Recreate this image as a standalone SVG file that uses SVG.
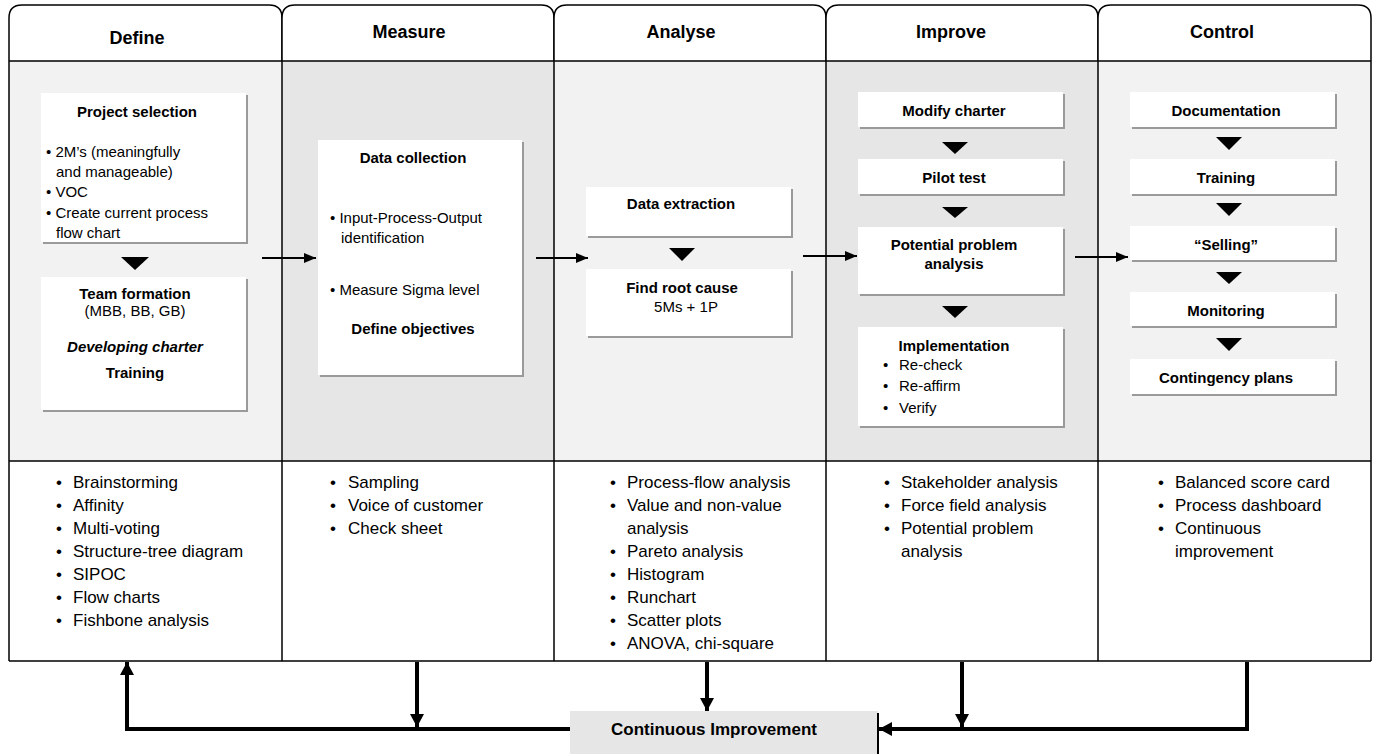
<svg xmlns="http://www.w3.org/2000/svg" width="1375" height="754" viewBox="0 0 1375 754">
<defs>
<style>
text{font-family:"Liberation Sans",Arial,sans-serif;fill:#000}
.hd{font-size:18px;font-weight:bold;text-anchor:middle}
.bt{font-size:15px;font-weight:bold;text-anchor:middle}
.rt{font-size:15px}
.rc{font-size:15px;text-anchor:middle}
.lt{font-size:17px}
.ci{font-size:17px;font-weight:bold;text-anchor:middle}
.tab{fill:#fff;stroke:#000;stroke-width:1.5}
.grid{stroke:#000;stroke-width:1.5;fill:none}
.box{fill:#fff}
.sh{fill:#9a9a9a}
.thin{stroke:#000;stroke-width:2;fill:none}
.thick{stroke:#000;stroke-width:4;fill:none}
.tri{fill:#000}
</style>
<marker id="ah" markerUnits="userSpaceOnUse" markerWidth="12" markerHeight="10" refX="12" refY="5" orient="auto"><path d="M0,0 L12,5 L0,10 Z" fill="#000"/></marker>
<marker id="ahb" markerUnits="userSpaceOnUse" markerWidth="13" markerHeight="14" refX="13" refY="7" orient="auto"><path d="M0,0 L13,7 L0,14 Z" fill="#000"/></marker>
</defs>
<rect x="0" y="0" width="1375" height="754" fill="#fff"/>
<g id="frame">
<rect x="9" y="61" width="273" height="400" fill="#f2f2f2"/>
<rect x="282" y="61" width="272" height="400" fill="#e6e6e6"/>
<rect x="554" y="61" width="272" height="400" fill="#f2f2f2"/>
<rect x="826" y="61" width="272" height="400" fill="#e6e6e6"/>
<rect x="1098" y="61" width="273" height="400" fill="#f2f2f2"/>
<path class="tab" d="M9,61 V18 C9,9 13,5 22,5 H269 C278,5 282,9 282,18 V61"/>
<path class="tab" d="M282,61 V18 C282,9 286,5 295,5 H541 C550,5 554,9 554,18 V61"/>
<path class="tab" d="M554,61 V18 C554,9 558,5 567,5 H813 C822,5 826,9 826,18 V61"/>
<path class="tab" d="M826,61 V18 C826,9 830,5 839,5 H1085 C1094,5 1098,9 1098,18 V61"/>
<path class="tab" d="M1098,61 V18 C1098,9 1102,5 1111,5 H1358 C1367,5 1371,9 1371,18 V61"/>
<path class="grid" d="M9,61 H1371 M9,461 H1371 M9,661 H1371 M9,61 V661 M282,61 V661 M554,61 V661 M826,61 V661 M1098,61 V661 M1371,61 V661"/>
<text class="hd" x="137" y="44">Define</text>
<text class="hd" x="409" y="38">Measure</text>
<text class="hd" x="681" y="38">Analyse</text>
<text class="hd" x="951" y="38">Improve</text>
<text class="hd" x="1222" y="38">Control</text>
</g>
<g id="define-project-selection">
<rect class="sh" x="43" y="95" width="205" height="149"/>
<rect class="box" x="41" y="93" width="205" height="149"/>
<text class="bt" x="137" y="117">Project selection</text>
<text class="rt" x="46" y="157">• 2M’s (meaningfully</text>
<text class="rt" x="56" y="177">and manageable)</text>
<text class="rt" x="46" y="197">• VOC</text>
<text class="rt" x="46" y="218">• Create current process</text>
<text class="rt" x="56" y="238">flow chart</text>
</g>
<g id="define-team-formation">
<rect class="sh" x="43" y="279" width="205" height="133"/>
<rect class="box" x="41" y="277" width="205" height="133"/>
<text class="bt" x="135" y="299">Team formation</text>
<text class="rc" x="135" y="316">(MBB, BB, GB)</text>
<text class="bt" x="135" y="352" font-style="italic">Developing charter</text>
<text class="bt" x="135" y="378">Training</text>
</g>
<g id="measure-data-collection">
<rect class="sh" x="320" y="142" width="204" height="235"/>
<rect class="box" x="318" y="140" width="204" height="235"/>
<text class="bt" x="413" y="163">Data collection</text>
<text class="rt" x="330" y="223">• Input-Process-Output</text>
<text class="rt" x="341" y="243">identification</text>
<text class="rt" x="330" y="295">• Measure Sigma level</text>
<text class="bt" x="413" y="334">Define objectives</text>
</g>
<g id="analyse-data-extraction">
<rect class="sh" x="588" y="189" width="205" height="49"/>
<rect class="box" x="586" y="187" width="205" height="49"/>
<text class="bt" x="681" y="209">Data extraction</text>
</g>
<g id="analyse-find-root-cause">
<rect class="sh" x="588" y="271" width="205" height="67"/>
<rect class="box" x="586" y="269" width="205" height="67"/>
<text class="bt" x="682" y="293">Find root cause</text>
<text class="rc" x="686" y="312">5Ms + 1P</text>
</g>
<g id="improve-modify-charter">
<rect class="sh" x="860" y="94" width="205" height="35"/>
<rect class="box" x="858" y="92" width="205" height="35"/>
<text class="bt" x="954" y="116">Modify charter</text>
</g>
<g id="improve-pilot-test">
<rect class="sh" x="860" y="161" width="205" height="35"/>
<rect class="box" x="858" y="159" width="205" height="35"/>
<text class="bt" x="954" y="183">Pilot test</text>
</g>
<g id="improve-potential-problem">
<rect class="sh" x="860" y="229" width="205" height="67"/>
<rect class="box" x="858" y="227" width="205" height="67"/>
<text class="bt" x="954" y="250">Potential problem</text>
<text class="bt" x="954" y="269">analysis</text>
</g>
<g id="improve-implementation">
<rect class="sh" x="860" y="329" width="205" height="99"/>
<rect class="box" x="858" y="327" width="205" height="99"/>
<text class="bt" x="954" y="351">Implementation</text>
<text class="rt" x="883" y="370">•</text><text class="rt" x="899" y="370">Re-check</text>
<text class="rt" x="883" y="391">•</text><text class="rt" x="899" y="391">Re-affirm</text>
<text class="rt" x="883" y="413">•</text><text class="rt" x="899" y="413">Verify</text>
</g>
<g id="control-documentation">
<rect class="sh" x="1132" y="94" width="205" height="35"/>
<rect class="box" x="1130" y="92" width="205" height="35"/>
<text class="bt" x="1226" y="116">Documentation</text>
</g>
<g id="control-training">
<rect class="sh" x="1132" y="161" width="205" height="35"/>
<rect class="box" x="1130" y="159" width="205" height="35"/>
<text class="bt" x="1226" y="183">Training</text>
</g>
<g id="control-selling">
<rect class="sh" x="1132" y="228" width="205" height="34"/>
<rect class="box" x="1130" y="226" width="205" height="34"/>
<text class="bt" x="1226" y="250">“Selling”</text>
</g>
<g id="control-monitoring">
<rect class="sh" x="1132" y="294" width="205" height="34"/>
<rect class="box" x="1130" y="292" width="205" height="34"/>
<text class="bt" x="1226" y="316">Monitoring</text>
</g>
<g id="control-contingency">
<rect class="sh" x="1132" y="361" width="205" height="35"/>
<rect class="box" x="1130" y="359" width="205" height="35"/>
<text class="bt" x="1226" y="383">Contingency plans</text>
</g>
<g id="tools-define">
<text class="lt" x="56" y="488">•</text><text class="lt" x="73" y="488">Brainstorming</text>
<text class="lt" x="56" y="511">•</text><text class="lt" x="73" y="511">Affinity</text>
<text class="lt" x="56" y="534">•</text><text class="lt" x="73" y="534">Multi-voting</text>
<text class="lt" x="56" y="557">•</text><text class="lt" x="73" y="557">Structure-tree diagram</text>
<text class="lt" x="56" y="580">•</text><text class="lt" x="73" y="580">SIPOC</text>
<text class="lt" x="56" y="603">•</text><text class="lt" x="73" y="603">Flow charts</text>
<text class="lt" x="56" y="626">•</text><text class="lt" x="73" y="626">Fishbone analysis</text>
</g>
<g id="tools-measure">
<text class="lt" x="330" y="488">•</text><text class="lt" x="348" y="488">Sampling</text>
<text class="lt" x="330" y="511">•</text><text class="lt" x="348" y="511">Voice of customer</text>
<text class="lt" x="330" y="534">•</text><text class="lt" x="348" y="534">Check sheet</text>
</g>
<g id="tools-analyse">
<text class="lt" x="610" y="488">•</text><text class="lt" x="627" y="488">Process-flow analysis</text>
<text class="lt" x="610" y="511">•</text><text class="lt" x="627" y="511">Value and non-value</text>
<text class="lt" x="627" y="534">analysis</text>
<text class="lt" x="610" y="557">•</text><text class="lt" x="627" y="557">Pareto analysis</text>
<text class="lt" x="610" y="580">•</text><text class="lt" x="627" y="580">Histogram</text>
<text class="lt" x="610" y="603">•</text><text class="lt" x="627" y="603">Runchart</text>
<text class="lt" x="610" y="626">•</text><text class="lt" x="627" y="626">Scatter plots</text>
<text class="lt" x="610" y="649">•</text><text class="lt" x="627" y="649">ANOVA, chi-square</text>
</g>
<g id="tools-improve">
<text class="lt" x="884" y="488">•</text><text class="lt" x="901" y="488">Stakeholder analysis</text>
<text class="lt" x="884" y="511">•</text><text class="lt" x="901" y="511">Force field analysis</text>
<text class="lt" x="884" y="534">•</text><text class="lt" x="901" y="534">Potential problem</text>
<text class="lt" x="901" y="557">analysis</text>
</g>
<g id="tools-control">
<text class="lt" x="1158" y="488">•</text><text class="lt" x="1175" y="488">Balanced score card</text>
<text class="lt" x="1158" y="511">•</text><text class="lt" x="1175" y="511">Process dashboard</text>
<text class="lt" x="1158" y="534">•</text><text class="lt" x="1175" y="534">Continuous</text>
<text class="lt" x="1175" y="557">improvement</text>
</g>
<g id="continuous-improvement">
<rect x="570" y="711" width="308" height="50" fill="#e6e6e6"/>
<path d="M878,713 V754" stroke="#000" stroke-width="2"/>
<text class="ci" x="714" y="735">Continuous Improvement</text>
</g>
<g id="connectors">
<path class="thin" d="M262,258 H316" marker-end="url(#ah)"/>
<path class="thin" d="M536,258 H588" marker-end="url(#ah)"/>
<path class="thin" d="M803,256 H857" marker-end="url(#ah)"/>
<path class="thin" d="M1075,257 H1128" marker-end="url(#ah)"/>
<polygon class="tri" points="121,257 149,257 135,270"/>
<polygon class="tri" points="669,248 695,248 682,261"/>
<polygon class="tri" points="942,142 968,142 955,154"/>
<polygon class="tri" points="942,207 968,207 955,218"/>
<polygon class="tri" points="942,306 968,306 955,318"/>
<polygon class="tri" points="1216,137 1242,137 1229,150"/>
<polygon class="tri" points="1216,203 1242,203 1229,216"/>
<polygon class="tri" points="1216,272 1242,272 1229,284"/>
<polygon class="tri" points="1216,338 1242,338 1229,351"/>
<path class="thick" d="M570,729 H127 V662" marker-end="url(#ahb)"/>
<path class="thick" d="M417,662 V727" marker-end="url(#ahb)"/>
<path class="thick" d="M707,662 V711" marker-end="url(#ahb)"/>
<path class="thick" d="M962,662 V727" marker-end="url(#ahb)"/>
<path class="thick" d="M1247,662 V729 H879" marker-end="url(#ahb)"/>
</g>
</svg>
